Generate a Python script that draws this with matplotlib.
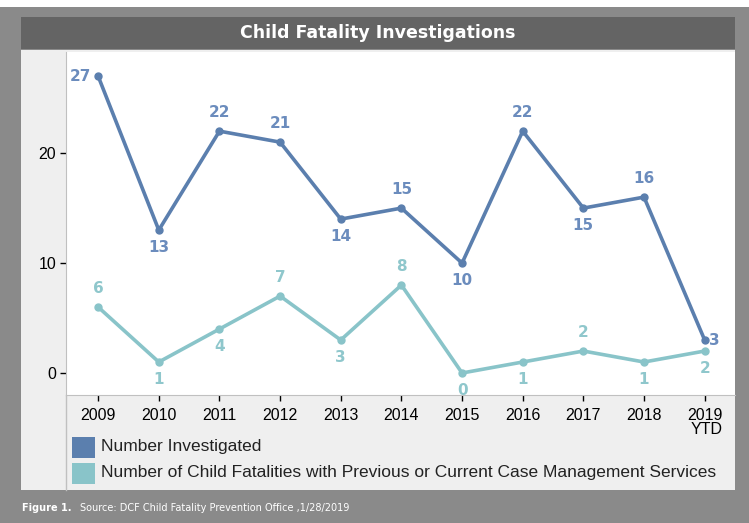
import matplotlib.pyplot as plt
from matplotlib.patches import Rectangle

years = ['2009', '2010', '2011', '2012', '2013', '2014', '2015', '2016', '2017', '2018', '2019\nYTD']
investigated = [27, 13, 22, 21, 14, 15, 10, 22, 15, 16, 3]
prior_services = [6, 1, 4, 7, 3, 8, 0, 1, 2, 1, 2]
inv_pos = ['left', 'below', 'above', 'above', 'below', 'above', 'below', 'above', 'below', 'above', 'right']
prior_pos = ['above', 'below', 'below', 'above', 'below', 'above', 'below', 'below', 'above', 'below', 'below']

W, H = 749, 523
blue = '#5b7fae'
blue_lbl = '#6b8cbd'
teal = '#89c4c9'
teal_lbl = '#8fc7cc'
tick_font = 'Liberation Sans'

fig = plt.figure(figsize=(W / 100, H / 100), dpi=100)
fig.patch.set_facecolor('#8a8a8a')


def box(x0, y0, x1, y1, color, z=0):
    fig.patches.append(Rectangle((x0 / W, 1 - y1 / H), (x1 - x0) / W, (y1 - y0) / H,
                                 transform=fig.transFigure, facecolor=color,
                                 edgecolor='none', zorder=z))


box(0, 0, W, 7, 'white')
box(21, 17, 735, 49, '#646464')
box(21, 50, 735, 490, '#efefef')
fig.text(378 / W, 1 - 33 / H, 'Child Fatality Investigations', ha='center', va='center',
         color='white', fontsize=12.5, fontweight='bold', family='DejaVu Sans')

ax = fig.add_axes([66 / W, 1 - 395 / H, (735 - 66) / W, (395 - 52) / H])
ax.set_zorder(5)
ax.set_facecolor('white')
x = list(range(len(years)))
ax.plot(x, investigated, color=blue, lw=2.6, marker='o', ms=5, zorder=3)
ax.plot(x, prior_services, color=teal, lw=2.6, marker='o', ms=5, zorder=3)

offsets = {'above': (0, 8, 'center', 'bottom'), 'below': (0, -7, 'center', 'top'),
           'left': (-5, 0, 'right', 'center'), 'right': (3, 0, 'left', 'center')}
for vals, pos, c in [(investigated, inv_pos, blue_lbl), (prior_services, prior_pos, teal_lbl)]:
    for xi, v, p in zip(x, vals, pos):
        dx, dy, ha, va = offsets[p]
        ax.annotate(str(v), (xi, v), xytext=(dx, dy), textcoords='offset points',
                    ha=ha, va=va, color=c, fontsize=11, fontweight='bold')

ax.set_xlim(-0.53, 10.5)
ax.set_ylim(-2, 29.2)
ax.set_yticks([0, 10, 20])
ax.set_xticks(x)
ax.set_xticklabels(years, fontsize=11.5, family=tick_font, linespacing=1.0)
ax.get_xticklabels()[-1].set_multialignment('right')
ax.tick_params(axis='y', labelsize=11.5, length=4, width=1, pad=3)
ax.tick_params(axis='x', length=4, width=1, pad=5)
for lbl in ax.get_yticklabels():
    lbl.set_family(tick_font)
for s in ['top', 'right']:
    ax.spines[s].set_visible(False)
ax.spines['left'].set_color('#c0c0c0')
ax.spines['bottom'].set_color('#c0c0c0')
fig.lines.append(plt.Line2D([66 / W, 66 / W], [1 - 490 / H, 1 - 395 / H],
                            transform=fig.transFigure, color='#c0c0c0', lw=1, zorder=3))

legend_items = [('Number Investigated', blue), (
    'Number of Child Fatalities with Previous or Current Case Management Services', teal)]
for i, (txt, c) in enumerate(legend_items):
    y0 = 437 + i * 26
    box(72, y0, 95, y0 + 21, c, z=2)
    fig.text(101 / W, 1 - (y0 + 10) / H, txt, ha='left', va='center', fontsize=12.5,
             family=tick_font, color='#222222')

fig.text(22 / W, 1 - 508 / H, 'Figure 1.', ha='left', va='center', fontsize=7,
         fontweight='bold', color='white')
fig.text(80 / W, 1 - 508 / H, 'Source: DCF Child Fatality Prevention Office ,1/28/2019',
         ha='left', va='center', fontsize=7, color='white')

fig.savefig('out.png', dpi=100, facecolor=fig.get_facecolor())
